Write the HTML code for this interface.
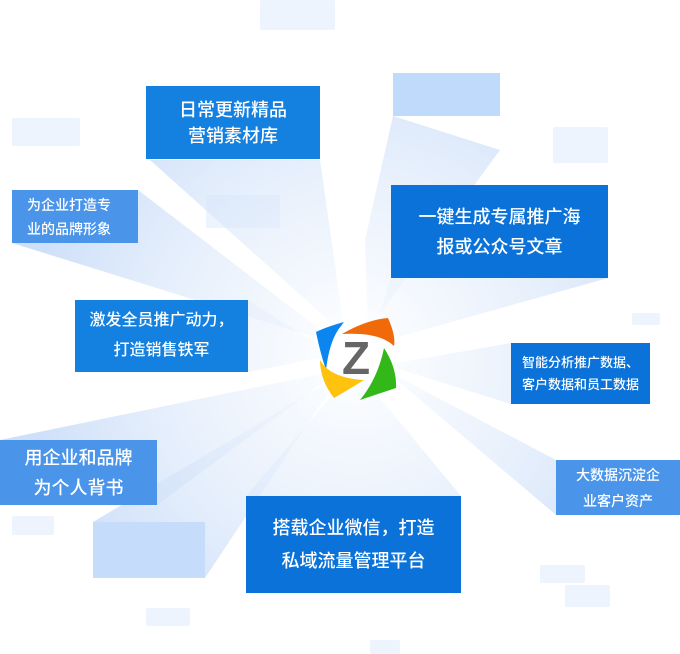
<!DOCTYPE html>
<html><head><meta charset="utf-8"><style>
html,body{margin:0;padding:0;background:#fff;}
body{width:680px;height:654px;position:relative;overflow:hidden;font-family:"Liberation Sans","Noto Sans CJK SC",sans-serif;}
.b{position:absolute;color:#fff;display:flex;align-items:center;justify-content:center;text-align:center;box-sizing:border-box;font-weight:500;}
</style></head><body>
<svg width="680" height="654" style="position:absolute;left:0;top:0">
<defs>
<radialGradient id="g" gradientUnits="userSpaceOnUse" cx="355" cy="355" r="330">
<stop offset="0" stop-color="#e3edfb" stop-opacity="0"/>
<stop offset="0.3" stop-color="#e3edfb" stop-opacity="0.45"/>
<stop offset="1" stop-color="#c8dcf8" stop-opacity="0.9"/>
</radialGradient>
</defs>
<g fill="#edf4fd">
<rect x="260" y="0" width="75" height="30" rx="2"/>
<rect x="12" y="118" width="68" height="28" rx="2"/>
<rect x="553" y="127" width="55" height="36" rx="2"/>
<rect x="206" y="195" width="74" height="33" rx="2"/>
<rect x="632" y="313" width="28" height="12" rx="2"/>
<rect x="12" y="516" width="42" height="19" rx="2"/>
<rect x="540" y="565" width="45" height="18" rx="2"/>
<rect x="565" y="585" width="45" height="22" rx="2"/>
<rect x="146" y="608" width="44" height="18" rx="2"/>
<rect x="370" y="640" width="30" height="14" rx="2"/>
</g>
<g fill="url(#g)">
<polygon points="150,160 320,160 345,335"/>
<polygon points="12,243 138,190 340,345"/>
<polygon points="393,116 500,150 368,330 365,240"/>
<polygon points="391,278 608,278 370,345"/>
<polygon points="248,300 248,372 335,355"/>
<polygon points="511,343 511,404 385,365"/>
<polygon points="0,440 157,440 157,505 340,370"/>
<polygon points="556,460 680,460 556,515 385,370"/>
<polygon points="246,496 461,496 365,380 345,380"/>
<polygon points="93,522 205,522 205,578 340,375"/>
</g>
<rect x="393" y="73" width="107" height="43" fill="#c0dafc"/>
<rect x="93" y="522" width="112" height="56" fill="#c6dcfb"/>
<g transform="translate(356,358)">
<path d="M-12,-36 Q-30,-31 -40,-26 Q-36,-6 -30,12 Q-27,-14 -18,-28 Z" fill="#0a86ee"/>
<path d="M-14,-24 Q10,-38 32,-40 Q40,-22 38,-12 Q24,-26 -14,-24 Z" fill="#f06a0a"/>
<path d="M28,-10 Q41,10 40,30 Q22,36 4,42 Q22,20 28,-10 Z" fill="#32b818"/>
<path d="M-36,2 Q-26,20 8,22 Q-8,32 -22,40 Q-36,22 -36,2 Z" fill="#ffc20e"/>
<text x="0" y="16" text-anchor="middle" font-family="Liberation Sans" font-weight="bold" font-size="46" fill="#666">Z</text>
</g>
</svg>
<div class="b" style="left:146px;top:86px;width:174px;height:73px;background:#1480e0;font-size:18px;line-height:26px">日常更新精品<br>营销素材库</div>
<div class="b" style="left:12px;top:190px;width:126px;height:53px;background:#4a94ea;font-size:14px;line-height:24px;text-align:left;justify-content:flex-start;padding-left:15px">为企业打造专<br>业的品牌形象</div>
<div class="b" style="left:391px;top:185px;width:217px;height:93px;background:#0a72d8;font-size:18px;line-height:30px">一键生成专属推广海<br>报或公众号文章</div>
<div class="b" style="left:75px;top:300px;width:173px;height:72px;background:#1480e0;font-size:16px;line-height:30px">激发全员推广动力，<br>打造销售铁军</div>
<div class="b" style="left:511px;top:343px;width:139px;height:61px;background:#0a72d8;font-size:13px;line-height:22px">智能分析推广数据、<br>客户数据和员工数据</div>
<div class="b" style="left:0;top:440px;width:157px;height:65px;background:#4a94ea;font-size:18px;line-height:30px">用企业和品牌<br>为个人背书</div>
<div class="b" style="left:556px;top:460px;width:124px;height:55px;background:#4a94ea;font-size:14px;line-height:26px">大数据沉淀企<br>业客户资产</div>
<div class="b" style="left:246px;top:496px;width:215px;height:97px;background:#0a72d8;font-size:18px;line-height:33px">搭载企业微信，打造<br>私域流量管理平台</div>
</body></html>
